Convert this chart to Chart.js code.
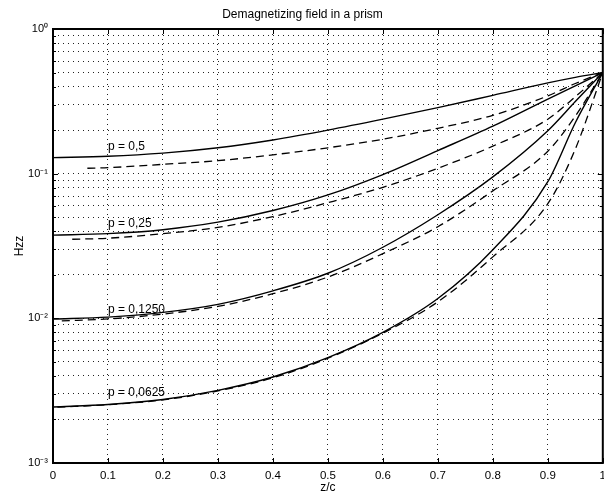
<!DOCTYPE html>
<html>
<head>
<meta charset="utf-8">
<script src="https://cdn.jsdelivr.net/npm/chart.js@4.4.1/dist/chart.umd.min.js"></script>
<style>
  html, body { margin: 0; padding: 0; background: #fff; overflow: hidden; }
</style>
</head>
<body>
<canvas id="prismChart" width="612" height="497"></canvas>
<script>
/* ===============================
   DATA
================================ */
const zSolid = [0, 0.1, 0.2, 0.3, 0.4, 0.5, 0.6, 0.7, 0.8, 0.9, 0.95, 1];

const solid0500 = [0.129, 0.132, 0.1387, 0.151, 0.171, 0.200, 0.238, 0.286, 0.348, 0.424, 0.463, 0.5];
const solid0250 = [0.0376, 0.0385, 0.0410, 0.0462, 0.0556, 0.0713, 0.0986, 0.1445, 0.213, 0.328, 0.405, 0.5];
const solid0125 = [0.0099, 0.0102, 0.011, 0.0125, 0.0155, 0.0205, 0.031, 0.052, 0.095, 0.198, 0.315, 0.5];
const solid0625 = [0.00244, 0.00254, 0.00275, 0.00318, 0.00393, 0.00535, 0.0080, 0.0137, 0.0298, 0.088, 0.225, 0.5];

// dashed curves start a little to the right of z = 0
const dashStart = [0.0625, 0.035, 0.016, 0.008];
const zDashed = [0.1, 0.2, 0.3, 0.4, 0.5, 0.6, 0.7, 0.8, 0.9, 0.95, 1];

const dashed0500 = [0.109, 0.110, 0.116, 0.123, 0.135, 0.151, 0.173, 0.206, 0.253, 0.345, 0.420, 0.5];
const dashed0250 = [0.0352, 0.0358, 0.0385, 0.0425, 0.0505, 0.063, 0.0805, 0.109, 0.155, 0.238, 0.340, 0.5];
const dashed0125 = [0.0096, 0.0099, 0.0107, 0.0121, 0.0148, 0.0193, 0.028, 0.043, 0.076, 0.143, 0.250, 0.5];
const dashed0625 = [0.00243, 0.00253, 0.00273, 0.00315, 0.00388, 0.0053, 0.0079, 0.0130, 0.0266, 0.062, 0.148, 0.5];

const curveLabels = ['p = 0,5', 'p = 0,25', 'p = 0,1250', 'p = 0,0625'];
const labelZ = [0.1, 0.1, 0.1, 0.1];
const labelHzz = [0.153, 0.0452, 0.0115, 0.00304];

const xTicks = [0, 0.1, 0.2, 0.3, 0.4, 0.5, 0.6, 0.7, 0.8, 0.9, 1];
const yDecades = [0.001, 0.01, 0.1, 1];
const yDecadeLabels = ['10\u207B\u00B3', '10\u207B\u00B2', '10\u207B\u00B9', '10\u2070'];
const yMantissas = [1, 2, 3, 4, 5, 6, 7, 8, 9];

const FONT = "'Liberation Sans', Arial, Helvetica, sans-serif";

/* ===============================
   HELPERS
================================ */
function solidPoints(vals) {
  return zSolid.map((z, i) => ({ x: z, y: vals[i] }));
}
function dashedPoints(start, vals) {
  const zs = [start].concat(zDashed);
  return zs.map((z, i) => ({ x: z, y: vals[i] }));
}
function curve(data, dashed) {
  return {
    data: data,
    borderColor: '#000',
    borderWidth: dashed ? 1.3 : 1.4,
    borderDash: dashed ? [8, 5] : [],
    pointRadius: 0,
    showLine: true,
    fill: false,
    cubicInterpolationMode: 'monotone'
  };
}

const yTickValues = [];
yDecades.slice(0, -1).forEach(d => {
  yMantissas.forEach(m => yTickValues.push(+(m * d).toPrecision(3)));
});
yTickValues.push(1);

/* ===============================
   PLUGINS: frame + curve labels
================================ */
const framePlugin = {
  id: 'frame',
  afterDatasetsDraw(chart) {
    const { ctx, chartArea: a, scales } = chart;
    ctx.save();
    ctx.strokeStyle = '#000';
    ctx.lineWidth = 1;
    // inward tick marks
    ctx.beginPath();
    xTicks.forEach(v => {
      const px = Math.round(scales.x.getPixelForValue(v)) + 0.5;
      ctx.moveTo(px, a.bottom); ctx.lineTo(px, a.bottom - 5);
      ctx.moveTo(px, a.top); ctx.lineTo(px, a.top + 5);
    });
    yTickValues.forEach(v => {
      const py = Math.round(scales.y.getPixelForValue(v)) + 0.5;
      const len = yDecades.includes(v) ? 5 : 3;
      ctx.moveTo(a.left, py); ctx.lineTo(a.left + len, py);
      ctx.moveTo(a.right, py); ctx.lineTo(a.right - len, py);
    });
    ctx.stroke();
    ctx.lineWidth = 2;
    ctx.strokeRect(a.left, a.top, a.right - a.left, a.bottom - a.top);

    // curve labels
    ctx.fillStyle = '#000';
    ctx.font = '12px ' + FONT;
    ctx.textAlign = 'left';
    ctx.textBaseline = 'middle';
    curveLabels.forEach((t, i) => {
      ctx.fillText(t, scales.x.getPixelForValue(labelZ[i]), scales.y.getPixelForValue(labelHzz[i]));
    });
    ctx.restore();
  }
};

/* ===============================
   CHART
================================ */
const prismChart = new Chart(document.getElementById('prismChart'), {
  type: 'scatter',
  data: {
    datasets: [
      curve(solidPoints(solid0500), false),
      curve(dashedPoints(dashStart[0], dashed0500), true),
      curve(solidPoints(solid0250), false),
      curve(dashedPoints(dashStart[1], dashed0250), true),
      curve(solidPoints(solid0125), false),
      curve(dashedPoints(dashStart[2], dashed0125), true),
      curve(solidPoints(solid0625), false),
      curve(dashedPoints(dashStart[3], dashed0625), true)
    ]
  },
  options: {
    responsive: false,
    animation: false,
    layout: { padding: { left: 0, right: 7, top: 0, bottom: 0 } },
    plugins: {
      legend: { display: false },
      tooltip: { enabled: false },
      title: {
        display: true,
        text: 'Demagnetizing field in a prism',
        color: '#000',
        font: { family: FONT, size: 12, weight: 'normal' },
        padding: { top: 7.8, bottom: 6.8 }
      }
    },
    scales: {
      x: {
        type: 'linear',
        min: 0,
        max: 1,
        afterBuildTicks: s => { s.ticks = xTicks.map(v => ({ value: v })); },
        afterFit: s => { s.height = 34; },
        ticks: {
          color: '#000',
          font: { family: FONT, size: 11.5 },
          padding: 6,
          maxRotation: 0,
          autoSkip: false,
          callback: v => String(+v.toFixed(1))
        },
        grid: { color: '#222', lineWidth: 1, drawTicks: false },
        border: { display: false, dash: [1, 4] },
        title: {
          display: true,
          text: 'z/c',
          color: '#000',
          font: { family: FONT, size: 12 },
          padding: { top: 0, bottom: 1.8 }
        }
      },
      y: {
        type: 'logarithmic',
        min: 0.001,
        max: 1,
        afterBuildTicks: s => { s.ticks = yTickValues.map(v => ({ value: v })); },
        afterFit: s => { s.width = 53; },
        ticks: {
          color: '#000',
          font: { family: FONT, size: 11 },
          padding: 5,
          autoSkip: false,
          callback: v => {
            const i = yDecades.indexOf(+(+v).toPrecision(3));
            return i >= 0 ? yDecadeLabels[i] : '';
          }
        },
        grid: { color: '#222', lineWidth: 1, drawTicks: false },
        border: { display: false, dash: [1, 4] },
        title: {
          display: true,
          text: 'Hzz',
          color: '#000',
          font: { family: FONT, size: 12 },
          padding: { top: 12.8, bottom: 0 }
        }
      }
    }
  },
  plugins: [framePlugin]
});
</script>
</body>
</html>
